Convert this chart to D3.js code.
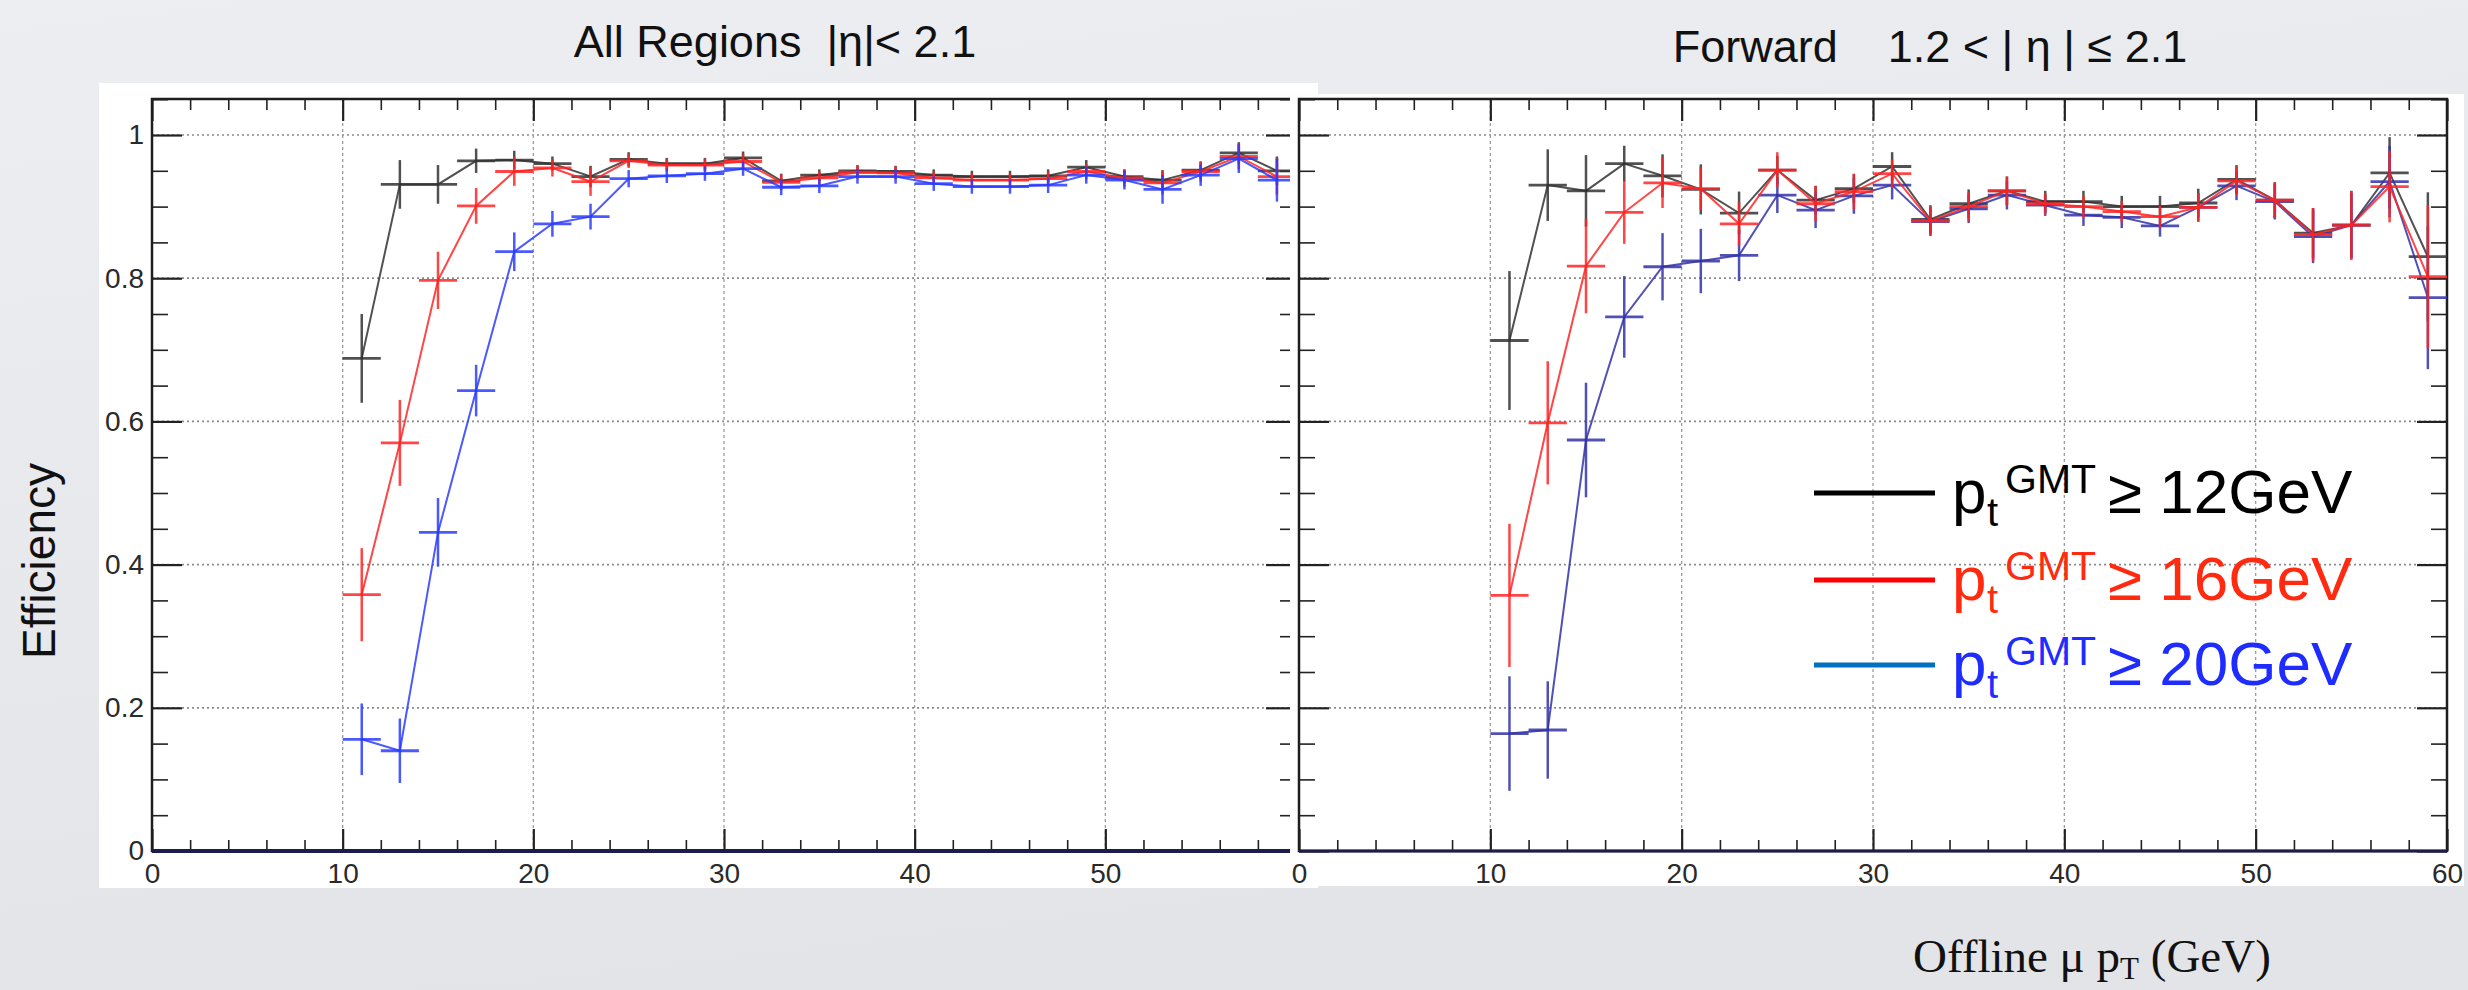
<!DOCTYPE html>
<html>
<head>
<meta charset="utf-8">
<script src="https://cdn.jsdelivr.net/npm/d3@7"></script>
<style>
    body { margin: 0; background: #e6e8eb; }
    text { font-family: "Liberation Sans", Arial, Helvetica, sans-serif; }
</style>
</head>
<body>
<svg id="paper"></svg>
<script>
// bin centres (GeV), bins are 2 GeV wide
var binCenters = [11, 13, 15, 17, 19, 21, 23, 25, 27, 29, 31, 33, 35, 37, 39, 41, 43, 45, 47, 49, 51, 53, 55, 57, 59];

// All regions |eta| < 2.1
var allPt12 = [0.688, 0.931, 0.931, 0.964, 0.965, 0.960, 0.942, 0.966, 0.960, 0.960, 0.968, 0.936, 0.944, 0.950, 0.949, 0.944, 0.942, 0.942, 0.943, 0.955, 0.942, 0.937, 0.951, 0.975, 0.950];
var allPt12Err = [0.062, 0.034, 0.027, 0.017, 0.013, 0.010, 0.015, 0.010, 0.008, 0.008, 0.009, 0.010, 0.008, 0.008, 0.008, 0.008, 0.008, 0.008, 0.009, 0.010, 0.010, 0.014, 0.012, 0.015, 0.020];
var allPt16 = [0.358, 0.570, 0.797, 0.901, 0.949, 0.954, 0.935, 0.964, 0.958, 0.958, 0.963, 0.934, 0.940, 0.948, 0.947, 0.940, 0.937, 0.937, 0.939, 0.949, 0.940, 0.933, 0.949, 0.970, 0.942];
var allPt16Err = [0.065, 0.060, 0.040, 0.025, 0.020, 0.012, 0.020, 0.010, 0.009, 0.009, 0.010, 0.011, 0.009, 0.009, 0.009, 0.009, 0.009, 0.009, 0.010, 0.011, 0.012, 0.016, 0.014, 0.018, 0.025];
var allPt20 = [0.156, 0.140, 0.445, 0.643, 0.837, 0.876, 0.886, 0.939, 0.943, 0.946, 0.953, 0.927, 0.929, 0.942, 0.942, 0.932, 0.928, 0.928, 0.930, 0.944, 0.937, 0.924, 0.944, 0.967, 0.937];
var allPt20Err = [0.050, 0.045, 0.048, 0.036, 0.027, 0.018, 0.018, 0.012, 0.010, 0.010, 0.010, 0.011, 0.010, 0.010, 0.010, 0.010, 0.010, 0.010, 0.011, 0.012, 0.013, 0.020, 0.015, 0.020, 0.030];

// Forward 1.2 < |eta| <= 2.1
var fwdPt12 = [0.713, 0.930, 0.922, 0.960, 0.943, 0.924, 0.891, 0.951, 0.909, 0.925, 0.956, 0.882, 0.904, 0.922, 0.907, 0.907, 0.900, 0.900, 0.905, 0.938, 0.909, 0.863, 0.874, 0.947, 0.830];
var fwdPt12Err = [0.097, 0.050, 0.050, 0.025, 0.030, 0.035, 0.030, 0.020, 0.020, 0.020, 0.020, 0.020, 0.020, 0.020, 0.015, 0.015, 0.015, 0.015, 0.020, 0.020, 0.025, 0.035, 0.045, 0.050, 0.090];
var fwdPt16 = [0.357, 0.598, 0.817, 0.892, 0.933, 0.925, 0.876, 0.951, 0.904, 0.921, 0.946, 0.880, 0.900, 0.922, 0.904, 0.900, 0.893, 0.886, 0.899, 0.936, 0.909, 0.861, 0.874, 0.928, 0.802];
var fwdPt16Err = [0.100, 0.086, 0.066, 0.044, 0.035, 0.030, 0.030, 0.025, 0.025, 0.025, 0.020, 0.020, 0.020, 0.020, 0.015, 0.015, 0.015, 0.015, 0.020, 0.020, 0.025, 0.037, 0.048, 0.050, 0.100];
var fwdPt20 = [0.164, 0.169, 0.574, 0.746, 0.816, 0.824, 0.832, 0.916, 0.895, 0.915, 0.930, 0.879, 0.897, 0.916, 0.902, 0.888, 0.885, 0.873, 0.899, 0.929, 0.907, 0.858, 0.874, 0.935, 0.773];
var fwdPt20Err = [0.080, 0.068, 0.080, 0.057, 0.047, 0.045, 0.036, 0.025, 0.025, 0.025, 0.020, 0.020, 0.020, 0.020, 0.015, 0.015, 0.015, 0.015, 0.020, 0.020, 0.025, 0.037, 0.048, 0.050, 0.100];

var xTicks = [0, 10, 20, 30, 40, 50, 60];
var yTicks = [0, 0.2, 0.4, 0.6, 0.8, 1];

var legendThresholds = ["≥ 12GeV", "≥ 16GeV", "≥ 20GeV"];

var width = 2468,
    height = 990;

var svg = d3.select("#paper")
    .attr("width", width)
    .attr("height", height);

var defs = svg.append("defs");
var grad = defs.append("linearGradient")
    .attr("id", "bg")
    .attr("x1", 0).attr("y1", 0).attr("x2", 0.3).attr("y2", 1);
grad.append("stop").attr("offset", 0).attr("stop-color", "#eceef1");
grad.append("stop").attr("offset", 1).attr("stop-color", "#e2e4e7");
defs.append("filter").attr("id", "soft")
    .append("feGaussianBlur").attr("stdDeviation", 0.7);

svg.append("rect")
    .attr("width", width)
    .attr("height", height)
    .attr("fill", "url(#bg)");

function series(values, errs) {
    return binCenters.map(function (c, i) {
        return {x: c, y: values[i], e: errs[i]};
    });
}

var minorX = d3.range(0, 61, 2).filter(function (v) { return v % 10 !== 0; });
var minorY = d3.range(0.05, 1.051, 0.05).filter(function (v) {
    return Math.abs(v * 5 - Math.round(v * 5)) > 1e-6;
});

function drawPanel(cfg) {
    var x = d3.scaleLinear().domain([0, 60]).range([cfg.x0, cfg.x1]);
    var y = d3.scaleLinear().domain([0, 1.05]).range([851, 99.2]);

    var g = svg.append("g");

    g.append("rect")
        .attr("x", cfg.bg[0]).attr("y", cfg.bg[1])
        .attr("width", cfg.bg[2] - cfg.bg[0])
        .attr("height", cfg.bg[3] - cfg.bg[1])
        .attr("fill", "#ffffff");

    // grid
    var grid = g.append("g").attr("filter", "url(#soft)");
    grid.selectAll(".hg")
        .data(yTicks.filter(function (v) { return v > 0; }))
        .enter().append("line")
        .attr("x1", cfg.x0).attr("x2", cfg.x1)
        .attr("y1", function (d) { return y(d); })
        .attr("y2", function (d) { return y(d); })
        .attr("stroke", "#8c8c8c")
        .attr("stroke-width", 1.7)
        .attr("stroke-dasharray", "2,3");
    grid.selectAll(".vg")
        .data(xTicks.filter(function (v) { return v > 0 && v < 60; }))
        .enter().append("line")
        .attr("x1", function (d) { return x(d); })
        .attr("x2", function (d) { return x(d); })
        .attr("y1", 99).attr("y2", 851)
        .attr("stroke", "#9c9c9c")
        .attr("stroke-width", 1.3)
        .attr("stroke-dasharray", "3,3");

    // axes with ticks pointing inward, ROOT style
    function ax(axis, tr, major) {
        var a = g.append("g")
            .attr("transform", tr)
            .call(axis);
        a.select(".domain").remove();
        a.selectAll(".tick line")
            .attr("stroke", "#222")
            .attr("stroke-width", major ? 2.2 : 1.6);
        a.selectAll("text")
            .attr("fill", "#2a2a2a")
            .style("font-size", "28px")
            .style("font-family", "'Liberation Sans', Arial, sans-serif");
        return a;
    }
    var xLab = function (d) { return cfg.xLabelMax >= d ? d3.format("~g")(d) : ""; };
    ax(d3.axisBottom(x).tickValues(xTicks).tickSize(-22).tickPadding(12).tickFormat(xLab), "translate(0,851)", true);
    ax(d3.axisBottom(x).tickValues(minorX).tickSize(-11).tickFormat(""), "translate(0,851)", false);
    ax(d3.axisTop(x).tickValues(xTicks).tickSize(-22).tickFormat(""), "translate(0,99)", true);
    ax(d3.axisTop(x).tickValues(minorX).tickSize(-11).tickFormat(""), "translate(0,99)", false);
    ax(d3.axisLeft(y).tickValues(yTicks).tickSize(-30).tickPadding(8)
        .tickFormat(cfg.yLabels ? d3.format("~g") : ""), "translate(" + cfg.x0 + ",0)", true);
    ax(d3.axisLeft(y).tickValues(minorY).tickSize(-16).tickFormat(""), "translate(" + cfg.x0 + ",0)", false);
    ax(d3.axisRight(y).tickValues(yTicks).tickSize(-30).tickFormat(""), "translate(" + cfg.x1 + ",0)", true);
    ax(d3.axisRight(y).tickValues(minorY).tickSize(-16).tickFormat(""), "translate(" + cfg.x1 + ",0)", false);

    g.append("rect")
        .attr("x", cfg.x0).attr("y", 99)
        .attr("width", cfg.x1 - cfg.x0).attr("height", 851 - 99)
        .attr("fill", "none")
        .attr("stroke", "#1e1e1e")
        .attr("stroke-width", 2.5);

    g.append("line")
        .attr("x1", x(0)).attr("x2", x(60))
        .attr("y1", y(0)).attr("y2", y(0))
        .attr("stroke", "#1d1d4c")
        .attr("stroke-width", cfg.baseWidth);

    // data
    var line = d3.line()
        .x(function (d) { return x(d.x); })
        .y(function (d) { return y(d.y); });

    var dg = g.append("g").attr("filter", "url(#soft)");
    cfg.sets.forEach(function (s) {
        var data = series(s.v, s.e);
        var sg = dg.append("g")
            .attr("stroke", s.color)
            .attr("stroke-opacity", 0.85)
            .attr("fill", "none");
        sg.append("path")
            .attr("d", line(data))
            .attr("stroke-width", 2);
        sg.selectAll(".ev")
            .data(data)
            .enter().append("line")
            .attr("x1", function (d) { return x(d.x); })
            .attr("x2", function (d) { return x(d.x); })
            .attr("y1", function (d) { return y(d.y - d.e); })
            .attr("y2", function (d) { return y(d.y + d.e); })
            .attr("stroke-width", 2.5);
        sg.selectAll(".eh")
            .data(data)
            .enter().append("line")
            .attr("x1", function (d) { return x(d.x - 1); })
            .attr("x2", function (d) { return x(d.x + 1); })
            .attr("y1", function (d) { return y(d.y); })
            .attr("y2", function (d) { return y(d.y); })
            .attr("stroke-width", 2.8);
    });

    return {x: x, y: y, g: g};
}

drawPanel({
    x0: 152, x1: 1296,
    bg: [99, 83, 1318, 888],
    xLabelMax: 50,
    yLabels: true,
    baseWidth: 4,
    sets: [
        {v: allPt12, e: allPt12Err, color: "#333333"},
        {v: allPt16, e: allPt16Err, color: "#ff2424"},
        {v: allPt20, e: allPt20Err, color: "#2a3cff"}
    ]
});

drawPanel({
    x0: 1299, x1: 2447,
    bg: [1290, 94, 2464, 886],
    xLabelMax: 60,
    yLabels: false,
    baseWidth: 3,
    sets: [
        {v: fwdPt12, e: fwdPt12Err, color: "#333333"},
        {v: fwdPt20, e: fwdPt20Err, color: "#3434a8"},
        {v: fwdPt16, e: fwdPt16Err, color: "#ff2424"}
    ]
});

// titles
svg.append("text")
    .attr("x", 775).attr("y", 57)
    .attr("text-anchor", "middle")
    .style("font-size", "45px")
    .style("white-space", "pre")
    .attr("fill", "#111")
    .text("All Regions  |η|< 2.1");

svg.append("text")
    .attr("x", 1930).attr("y", 62)
    .attr("text-anchor", "middle")
    .style("font-size", "45px")
    .style("white-space", "pre")
    .attr("fill", "#111")
    .text("Forward    1.2 < | η | ≤ 2.1");

svg.append("text")
    .attr("transform", "translate(55,561) rotate(-90)")
    .attr("text-anchor", "middle")
    .style("font-size", "46px")
    .attr("fill", "#111")
    .text("Efficiency");

var xl = svg.append("text")
    .attr("x", 1913).attr("y", 972)
    .style("font-family", "'Liberation Serif', 'Times New Roman', serif")
    .style("font-size", "47px")
    .style("white-space", "pre")
    .attr("fill", "#111");
xl.append("tspan").text("Offline μ p");
xl.append("tspan").attr("dy", 7).style("font-size", "31px").text("T");
xl.append("tspan").attr("dy", -7).text(" (GeV)");

// legend
var legendBase = [513, 600, 685];
var legendLine = ["#000000", "#ff0000", "#0070c0"];
var legendText = ["#000000", "#ff2a10", "#1f2cff"];

var lg = svg.append("g");
legendThresholds.forEach(function (t, i) {
    var b = legendBase[i];
    lg.append("line")
        .attr("x1", 1814).attr("x2", 1935)
        .attr("y1", b - 20).attr("y2", b - 20)
        .attr("stroke", legendLine[i])
        .attr("stroke-width", 5);
    lg.append("text")
        .attr("x", 1952).attr("y", b)
        .style("font-size", "62px")
        .attr("fill", legendText[i])
        .text("p");
    lg.append("text")
        .attr("x", 1987).attr("y", b + 13)
        .style("font-size", "40px")
        .attr("fill", legendText[i])
        .text("t");
    lg.append("text")
        .attr("x", 2005).attr("y", b - 20)
        .style("font-size", "41px")
        .attr("fill", legendText[i])
        .text("GMT");
    lg.append("text")
        .attr("x", 2108).attr("y", b)
        .style("font-size", "62px")
        .attr("fill", legendText[i])
        .text(t);
});
</script>
</body>
</html>
